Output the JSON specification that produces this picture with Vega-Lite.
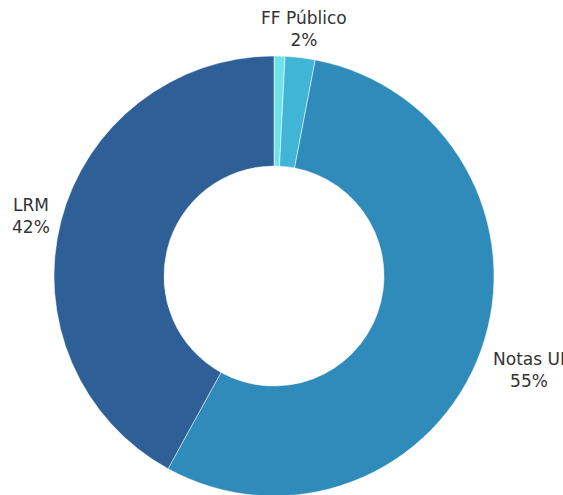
{
  "$schema": "https://vega.github.io/schema/vega-lite/v6.json",
  "width": 548,
  "height": 552,
  "autosize": "none",
  "padding": {"left": 0, "top": 0, "right": 15, "bottom": 0},
  "background": "white",
  "data": {
    "values": [
      {"cat": "Otros", "value": 0.8, "orden": 1},
      {"cat": "FF Público", "value": 2.2, "orden": 2},
      {"cat": "Notas UI", "value": 55, "orden": 3},
      {"cat": "LRM", "value": 42, "orden": 4}
    ]
  },
  "transform": [
    {"calculate": "[datum.cat, format(datum.value / 100, '.0%')]", "as": "lbl"}
  ],
  "encoding": {
    "theta": {"field": "value", "type": "quantitative", "stack": true},
    "order": {"field": "orden", "type": "quantitative"}
  },
  "layer": [
    {
      "mark": {"type": "arc", "outerRadius": 220, "innerRadius": 110, "stroke": "white", "strokeWidth": 0.5},
      "encoding": {
        "color": {
          "field": "cat",
          "type": "nominal",
          "scale": {
            "domain": ["Otros", "FF Público", "Notas UI", "LRM"],
            "range": ["#6FE3EA", "#40B5D6", "#2E8BBA", "#2F5F97"]
          },
          "legend": null
        }
      }
    },
    {
      "mark": {"type": "text", "radius": 251, "dy": -8, "font": "DejaVu Sans", "fontSize": 17, "color": "#333333", "lineHeight": 22, "align": "center", "baseline": "middle"},
      "encoding": {
        "text": {"condition": {"test": "datum.value > 1 && datum.cat !== 'Notas UI'", "field": "lbl"}, "value": ""}
      }
    },
    {
      "mark": {"type": "text", "radius": 271, "dy": -8, "font": "DejaVu Sans", "fontSize": 17, "color": "#333333", "lineHeight": 22, "align": "center", "baseline": "middle"},
      "encoding": {
        "text": {"condition": {"test": "datum.cat === 'Notas UI'", "field": "lbl"}, "value": ""}
      }
    }
  ]
}
